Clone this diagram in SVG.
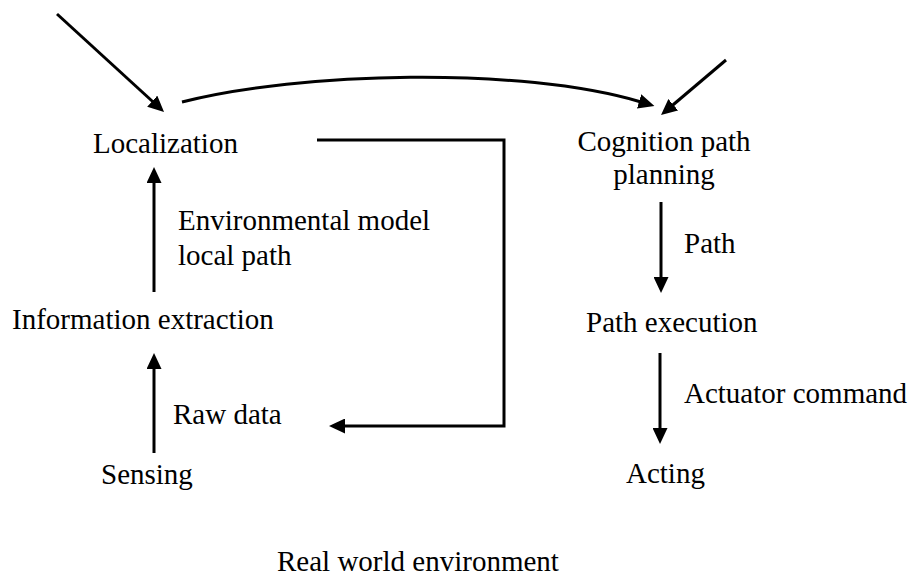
<svg xmlns="http://www.w3.org/2000/svg" width="912" height="576" viewBox="0 0 912 576">
  <style>
    text { font-family: "Liberation Serif", "Times New Roman", serif; font-size: 29px; fill: #000; }
    .edge { fill: none; stroke: #000; stroke-width: 3; }
  </style>
  <defs>
    <marker id="arrow" markerUnits="userSpaceOnUse" markerWidth="16" markerHeight="15" refX="2" refY="7.5" orient="auto">
      <path d="M0,0 L16,7.5 L0,15 z" fill="#000"/>
    </marker>
  </defs>
  <rect width="912" height="576" fill="#fff"/>

  <!-- connectors -->
  <g id="connectors">
    <path class="edge" d="M57,14 L153.7,102.5" marker-end="url(#arrow)"/>
    <path class="edge" d="M182,102 C300,72 520,66 641,102" marker-end="url(#arrow)"/>
    <path class="edge" d="M726,60 L671.7,106" marker-end="url(#arrow)"/>
    <path class="edge" d="M154,292 V181" marker-end="url(#arrow)"/>
    <path class="edge" d="M154,453 V367" marker-end="url(#arrow)"/>
    <path class="edge" d="M317,140 H504 V426 H343" marker-end="url(#arrow)"/>
    <path class="edge" d="M661,202 V279" marker-end="url(#arrow)"/>
    <path class="edge" d="M660,353 V430" marker-end="url(#arrow)"/>
  </g>

  <!-- nodes -->
  <g id="localization"><text x="93" y="153">Localization</text></g>
  <g id="information-extraction"><text x="12" y="329">Information extraction</text></g>
  <g id="sensing"><text x="101" y="484">Sensing</text></g>
  <g id="cognition"><text x="664" y="151" text-anchor="middle">Cognition path</text><text x="664" y="184" text-anchor="middle">planning</text></g>
  <g id="path-execution"><text x="586" y="332">Path execution</text></g>
  <g id="acting"><text x="626" y="483">Acting</text></g>
  <g id="environment"><text x="277" y="571">Real world environment</text></g>

  <!-- edge labels -->
  <g id="labels">
    <text x="178" y="230">Environmental model</text>
    <text x="178" y="265">local path</text>
    <text x="173" y="424">Raw data</text>
    <text x="684" y="253">Path</text>
    <text x="684" y="403">Actuator command</text>
  </g>
</svg>
